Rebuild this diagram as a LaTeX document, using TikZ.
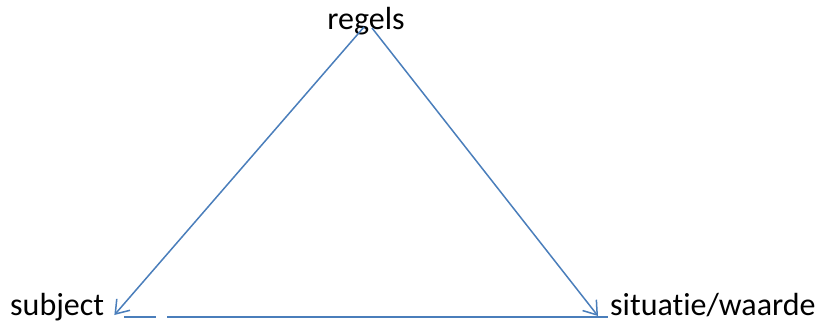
\documentclass[tikz,border=0pt]{standalone}
\usepackage{fontspec}
\setmainfont[Ligatures=NoCommon]{Carlito}
\usepackage{tikz}
\usetikzlibrary{arrows.meta,positioning,calc}
\definecolor{lijnblauw}{HTML}{4A7EBB}

\begin{document}
\begin{tikzpicture}[x=1pt,y=-1pt,font=\fontsize{32}{38}\selectfont,
    lbl/.style={inner sep=0pt,anchor=base},
    pijl/.style={lijnblauw,line width=1.5pt,-{Straight Barb[length=12.5pt,width=17.5pt]}},
    lijn/.style={lijnblauw,line width=1.5pt}]
  \useasboundingbox (0,0) rectangle (817,322);

  %% labels
  \node[lbl] (regels) at (366,29) {regels};
  \node[lbl,anchor=base west] (subject) at (10,315) {subject};
  \node[lbl,anchor=base west] (situatie) at (610,315) {situatie/waarde};

  %% end points of the lines
  \coordinate (topl) at ($(regels.base)+(-2,-2)$);
  \coordinate (topr) at ($(regels.base)+(6,-1)$);
  \coordinate (subjtip) at ($(subject.base east)+(10,0)$);
  \coordinate (sittip) at ($(situatie.base west)+(-12,1)$);
  \coordinate (onderA) at ($(subject.base east)+(20,2)$);
  \coordinate (onderB) at ($(subject.base east)+(52,2)$);
  \coordinate (onderC) at ($(subject.base east)+(63,2)$);
  \coordinate (onderD) at ($(situatie.base west)+(-2,2)$);

  %% triangle
  \draw[pijl] (topl) -- (subjtip);
  \draw[pijl] (topr) -- (sittip);
  \draw[lijn] (onderA) -- (onderB);
  \draw[lijn] (onderC) -- (onderD);
\end{tikzpicture}
\end{document}
